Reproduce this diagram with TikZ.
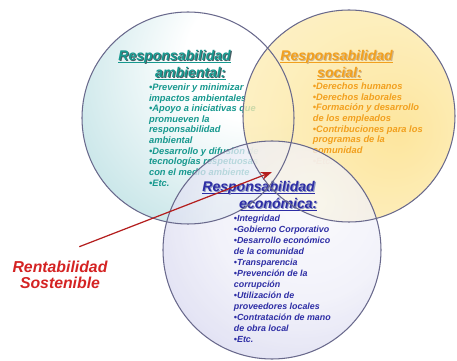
\documentclass[tikz,border=0pt]{standalone}
\usepackage{fontspec}
\setmainfont{Liberation Sans}
\usepackage{xcolor}
\usetikzlibrary{arrows.meta,positioning}

\definecolor{ambcol}{RGB}{22,152,142}
\definecolor{ambdark}{RGB}{70,95,100}
\definecolor{soccol}{RGB}{242,160,30}
\definecolor{socdark}{RGB}{205,180,140}
\definecolor{ecocol}{RGB}{45,45,165}
\definecolor{ecodark}{RGB}{140,150,195}
\definecolor{rentcol}{RGB}{212,35,35}
\definecolor{rimcol}{RGB}{105,105,140}

% soft fills of the three circles
\pgfdeclareradialshading{ambfill}{\pgfpoint{18bp}{18bp}}{color(0bp)=(white); color(15bp)=(white); color(80bp)=(rgb,255:red,110;green,188;blue,195)}
\pgfdeclareradialshading{socfill}{\pgfpoint{12bp}{-4bp}}{color(0bp)=(rgb,255:red,252;green,222;blue,130); color(25bp)=(rgb,255:red,253;green,234;blue,170); color(70bp)=(rgb,255:red,254;green,247;blue,225)}
\pgfdeclareradialshading{ecofill}{\pgfpoint{10bp}{12bp}}{color(0bp)=(rgb,255:red,248;green,248;blue,252); color(20bp)=(rgb,255:red,238;green,238;blue,248); color(75bp)=(rgb,255:red,155;green,155;blue,215)}

% heading text with a soft drop shadow and a close underline
\newcommand{\shadowed}[2]{\rlap{\kern0.6pt\raisebox{-0.6pt}{\color{#1}#2}}#2}
\newcommand{\headline}[2]{\setbox0\hbox{\shadowed{#1}{#2}}\rlap{\rule[-1.2pt]{\wd0}{0.5pt}}\box0}

\begin{document}
\begin{tikzpicture}[
    x=0.02cm, y=-0.02cm,
    rim/.style={draw=rimcol, line width=0.6pt},
    heading/.style={inner sep=0pt, anchor=north west, align=left, font=\fontsize{8}{9.6}\selectfont\bfseries\itshape},
    items/.style={inner sep=0pt, align=left, font=\fontsize{5.3}{6.05}\selectfont\bfseries\itshape},
    arr/.style={-{Stealth[length=2.2mm, width=1.6mm]}, draw=rentcol!85!black, line width=0.7pt}
]
\useasboundingbox (0,0) rectangle (457,361);

% environmental circle
\shade[shading=ambfill] (188,118) circle (106);
\node[heading, text=ambcol] (amb) at (118,50) {\headline{ambdark}{Responsabilidad}\\\hspace*{21pt}\headline{ambdark}{ambiental:}};
\node[items, text=ambcol, below right=2pt and 17.5pt] (ambList) at (amb.south west) {%
•Prevenir y minimizar\\
impactos ambientales\\
•Apoyo a iniciativas que\\
promueven la\\
responsabilidad\\
ambiental\\
•Desarrollo y difusión de\\
tecnologías respetuosas\\
con el medio ambiente\\
•Etc.};

% social circle
\shade[shading=socfill, fill opacity=0.78] (349,116) circle (106);
\node[heading, text=soccol] (soc) at (280,50) {\headline{socdark}{Responsabilidad}\\\hspace*{21pt}\headline{socdark}{social:}};
\node[items, text=soccol, below right=1.5pt and 18.5pt] (socList) at (soc.south west) {%
•Derechos humanos\\
•Derechos laborales\\
•Formación y desarrollo\\
de los empleados\\
•Contribuciones para los\\
programas de la\\
comunidad\\
{\color{soccol!45}•Etc.}};

% economic circle
\shade[shading=ecofill, fill opacity=0.75] (272,250) circle (109);
\node[heading, text=ecocol] (eco) at (202,181) {\headline{ecodark}{Responsabilidad}\\\hspace*{21pt}\headline{ecodark}{económica:}};
\node[items, text=ecocol, below right=2pt and 18pt, font=\fontsize{5.05}{6.3}\selectfont\bfseries\itshape] (ecoList) at (eco.south west) {%
•Integridad\\
•Gobierno Corporativo\\
•Desarrollo económico\\
de la comunidad\\
•Transparencia\\
•Prevención de la\\
corrupción\\
•Utilización de\\
proveedores locales\\
•Contratación de mano\\
de obra local\\
•Etc.};

\draw[rim] (188,118) circle (106);
\draw[rim] (349,116) circle (106);
\draw[rim] (272,250) circle (109);

\node[align=center, inner sep=0pt, text=rentcol, font=\fontsize{9}{9.2}\selectfont\bfseries\itshape] (rent) at (60,275) {Rentabilidad\\Sostenible};
\coordinate (core) at (272,172);
\draw[arr] ([xshift=11pt, yshift=8pt]rent.north) -- (core);
\end{tikzpicture}
\end{document}
